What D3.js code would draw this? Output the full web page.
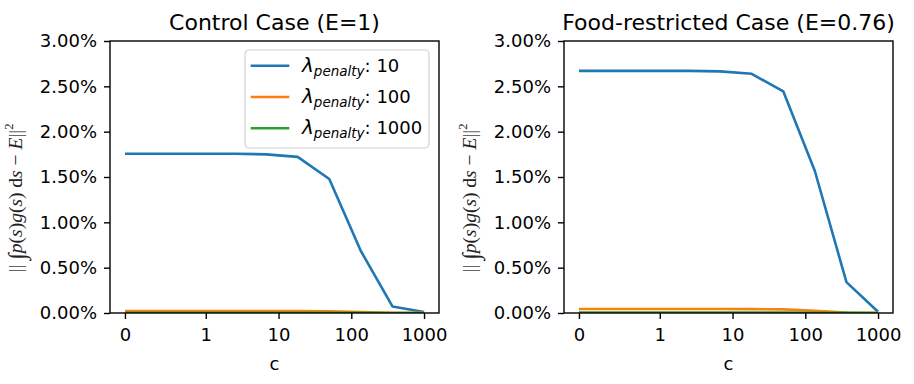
<!DOCTYPE html>
<html>
<head>
<meta charset="utf-8">
<script src="https://cdn.jsdelivr.net/npm/d3@7"></script>
<style>
  body { margin: 0; background: #fff; }
  svg { display: block; }
  .tick text { font-family: 'DejaVu Sans', sans-serif; font-size: 18px; fill: #000; }
  .tick line { stroke: #000; stroke-width: 1.4; }
  .title { font-family: 'DejaVu Sans', sans-serif; font-size: 22px; text-anchor: middle; }
  .axis-label { font-family: 'DejaVu Sans', sans-serif; font-size: 18px; text-anchor: middle; }
  .legend-text { font-family: 'DejaVu Sans', sans-serif; font-size: 18px; }
</style>
</head>
<body>
<svg width="914" height="384"></svg>
<script>
// x positions (c) shared by every series
const cValues = [0, 0.91, 2.48, 6.74, 18.3, 49.8, 135.3, 367.9, 1000];

// values in percent
const controlPenalty10   = [1.757, 1.757, 1.756, 1.750, 1.722, 1.478, 0.684, 0.072, 0.011];
const controlPenalty100  = [0.022, 0.022, 0.022, 0.022, 0.022, 0.020, 0.010, 0.003, 0.001];
const controlPenalty1000 = [0.002, 0.002, 0.002, 0.002, 0.002, 0.002, 0.001, 0.000, 0.000];

const restrictedPenalty10   = [2.671, 2.671, 2.670, 2.665, 2.638, 2.445, 1.566, 0.340, 0.014];
const restrictedPenalty100  = [0.044, 0.044, 0.044, 0.044, 0.043, 0.040, 0.025, 0.006, 0.001];
const restrictedPenalty1000 = [0.004, 0.004, 0.004, 0.004, 0.004, 0.004, 0.002, 0.001, 0.000];

const penaltyNames = ['10', '100', '1000'];
const colors = ['#1f77b4', '#ff7f0e', '#2ca02c'];

const xTicks = [0, 1, 10, 100, 1000];
const xTickLabels = ['0', '1', '10', '100', '1000'];
const yTicks = [0, 0.5, 1, 1.5, 2, 2.5, 3];

const svg = d3.select('svg');

// matplotlib-style symlog, linthresh = 1, linscale = 1
const symlog = c => c <= 1 ? c / 0.9 : 1 / 0.9 + Math.log10(c);

const render = (left, title, seriesList, showLegend, id) => {
    const margin = {top: 41, bottom: 71};
    const innerWidth = 329;
    const innerHeight = 384 - margin.top - margin.bottom;

    const span = symlog(1000) - symlog(0);
    const xScale = d3.scaleLinear()
        .domain([symlog(0) - span * 0.05, symlog(1000) + span * 0.05])
        .range([0, innerWidth]);

    const yScale = d3.scaleLinear()
        .domain([0, 3])
        .range([innerHeight, 0]);

    const g = svg.append('g')
        .attr('transform', `translate(${left}, ${margin.top})`);

    g.append('clipPath').attr('id', id)
        .append('rect')
        .attr('width', innerWidth)
        .attr('height', innerHeight);

    const lineGenerator = d3.line()
        .x((d, i) => xScale(symlog(cValues[i])))
        .y(d => yScale(d));

    const linesG = g.append('g').attr('clip-path', `url(#${id})`);
    seriesList.forEach((s, i) => {
        linesG.append('path')
            .attr('d', lineGenerator(s))
            .attr('fill', 'none')
            .attr('stroke', colors[i])
            .attr('stroke-width', 2.6)
            .attr('stroke-linejoin', 'round');
    });

    const xAxis = d3.axisBottom(xScale)
        .tickValues(xTicks.map(symlog))
        .tickFormat((d, i) => xTickLabels[i])
        .tickSize(6)
        .tickSizeOuter(0)
        .tickPadding(9);

    const xAxisG = g.append('g').call(xAxis)
        .attr('transform', `translate(0, ${innerHeight})`);
    xAxisG.select('.domain').remove();

    const yAxis = d3.axisLeft(yScale)
        .tickValues(yTicks)
        .tickFormat(d => d.toFixed(2) + '%')
        .tickSize(6)
        .tickSizeOuter(0)
        .tickPadding(7);

    const yAxisG = g.append('g').call(yAxis);
    yAxisG.select('.domain').remove();

    g.append('rect')
        .attr('width', innerWidth)
        .attr('height', innerHeight)
        .attr('fill', 'none')
        .attr('stroke', '#000')
        .attr('stroke-width', 1.4);

    g.append('text')
        .attr('class', 'title')
        .attr('x', innerWidth / 2)
        .attr('y', -11)
        .text(title);

    g.append('text')
        .attr('class', 'axis-label')
        .attr('x', innerWidth / 2)
        .attr('y', innerHeight + 57)
        .text('c');

    // y label: || ∫ p(s)g(s) ds − E ||²
    const yl = g.append('text')
        .attr('transform', `translate(-88, ${157}) rotate(-90)`)
        .attr('text-anchor', 'middle')
        .attr('font-family', "'Liberation Serif', serif")
        .attr('font-size', 19.5)
        .attr('fill', '#222');
    yl.append('tspan').attr('fill', '#666').text('|| ');
    yl.append('tspan').attr('font-size', 24).attr('dy', 3).text('∫');
    yl.append('tspan').attr('font-style', 'italic').attr('dy', -3).text('p');
    yl.append('tspan').text('(');
    yl.append('tspan').attr('font-style', 'italic').text('s');
    yl.append('tspan').text(')');
    yl.append('tspan').attr('font-style', 'italic').text('g');
    yl.append('tspan').text('(');
    yl.append('tspan').attr('font-style', 'italic').text('s');
    yl.append('tspan').text(') d');
    yl.append('tspan').attr('font-style', 'italic').text('s');
    yl.append('tspan').text(' − ');
    yl.append('tspan').attr('font-style', 'italic').text('E');
    yl.append('tspan').attr('fill', '#666').text('||');
    yl.append('tspan').attr('font-size', 12.5).attr('dy', -9).text('2');

    if (showLegend) {
        const lg = g.append('g')
            .attr('transform', `translate(${innerWidth - 10 - 184}, 9)`);
        lg.append('rect')
            .attr('width', 184)
            .attr('height', 98)
            .attr('rx', 4)
            .attr('fill', '#fff')
            .attr('fill-opacity', 0.8)
            .attr('stroke', '#d0d0d0')
            .attr('stroke-width', 1.2);
        penaltyNames.forEach((name, i) => {
            const cy = 15.7 + i * 31.3;
            lg.append('line')
                .attr('x1', 5.7).attr('x2', 44.3)
                .attr('y1', cy).attr('y2', cy)
                .attr('stroke', colors[i])
                .attr('stroke-width', 2.6);
            const t = lg.append('text')
                .attr('class', 'legend-text')
                .attr('x', 57)
                .attr('y', cy + 6);
            t.append('tspan').attr('font-style', 'italic').attr('font-size', 20).text('λ');
            t.append('tspan').attr('font-style', 'italic')
                .attr('font-size', 13.5).attr('dy', 4).text('penalty');
            t.append('tspan').attr('dy', -4).text(': ' + name);
        });
    }
};

render(110, 'Control Case (E=1)',
    [controlPenalty10, controlPenalty100, controlPenalty1000], true, 'clipA');
render(564, 'Food-restricted Case (E=0.76)',
    [restrictedPenalty10, restrictedPenalty100, restrictedPenalty1000], false, 'clipB');
</script>
</body>
</html>
